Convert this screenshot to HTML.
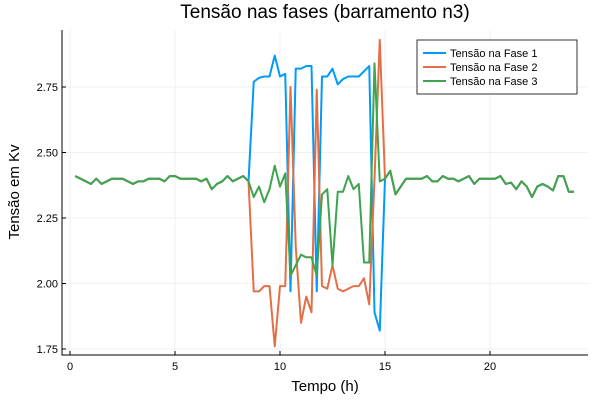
<!DOCTYPE html>
<html><head><meta charset="utf-8"><style>
body{margin:0;background:#fff}
svg text{font-family:"Liberation Sans",sans-serif}
</style></head><body>
<svg id="c" width="600" height="400" xmlns="http://www.w3.org/2000/svg">
<rect width="600" height="400" fill="#fff"/>
<g id="grid"></g><g id="axes"></g><g id="series"></g>
<text x="325" y="18" text-anchor="middle" font-size="19" fill="#000">Tensão nas fases (barramento n3)</text>
<text x="325" y="391" text-anchor="middle" font-size="15" fill="#000">Tempo (h)</text>
<text x="19" y="192" text-anchor="middle" font-size="15" fill="#000" transform="rotate(-90 19 192)">Tensão em Kv</text>
<g id="legend">
<rect x="417" y="40" width="160" height="54" fill="#fff" stroke="#000" stroke-width="0.8"/>
</g>
</svg>
<script>
const xTicks=[0,5,10,15,20];
const yTicks=[1.75,2.00,2.25,2.50,2.75];
const yTickLabels=["1.75","2.00","2.25","2.50","2.75"];
const seriesNames=["Tensão na Fase 1","Tensão na Fase 2","Tensão na Fase 3"];
const common1=[2.41,2.40,2.39,2.38,2.40,2.38,2.39,2.40,2.40,2.40,2.39,2.38,2.39,2.39,2.40,2.40,2.40,2.39,2.41,2.41,2.40,2.40,2.40,2.40,2.39,2.40,2.36,2.38,2.39,2.41,2.39,2.40,2.41,2.39];
const common2=[2.40,2.43,2.34,2.37,2.40,2.40,2.40,2.40,2.41,2.39,2.39,2.41,2.40,2.40,2.39,2.40,2.41,2.38,2.40,2.40,2.40,2.40,2.41,2.38,2.385,2.36,2.39,2.37,2.33,2.37,2.38,2.37,2.355,2.41,2.41,2.35,2.35];
const blueMid=[2.77,2.785,2.79,2.79,2.87,2.79,2.80,1.97,2.82,2.82,2.83,2.83,1.97,2.79,2.79,2.82,2.76,2.78,2.79,2.79,2.79,2.81,2.83,1.89,1.82];
const redMid=[1.97,1.97,1.99,1.99,1.76,1.99,1.99,2.75,2.14,1.85,1.95,1.89,2.74,1.99,1.98,2.07,1.98,1.97,1.98,1.99,1.99,2.02,1.92,2.40,2.93];
const greenMid=[2.33,2.37,2.31,2.36,2.45,2.37,2.42,2.03,2.07,2.11,2.10,2.10,2.03,2.34,2.36,2.07,2.35,2.35,2.41,2.36,2.38,2.08,2.08,2.84,2.39];
const tStart=0.25, tStep=0.25;
const colors=["#009AFA","#E36F47","#3EA44E"];
const series=[common1.concat(blueMid,common2),common1.concat(redMid,common2),common1.concat(greenMid,common2)];
const NS="http://www.w3.org/2000/svg";
const L=62,R=588,T=30,B=355;
function xs(t){return 70+t*21;}
function ys(v){return 349-(v-1.75)*262;}
function mk(tag,attrs,parent){const e=document.createElementNS(NS,tag);for(const k in attrs)e.setAttribute(k,attrs[k]);parent.appendChild(e);return e;}
const grid=document.getElementById('grid'),axes=document.getElementById('axes'),sg=document.getElementById('series'),lg=document.getElementById('legend');
xTicks.forEach(t=>{
 const g=mk('line',{x1:xs(t),x2:xs(t),y1:T,y2:B,stroke:'#000','stroke-opacity':0.1,'stroke-width':0.5},grid);
 
 
 const tk=mk('line',{x1:xs(t),x2:xs(t),y1:B,y2:B-4,stroke:'#000','stroke-width':1},axes);
 
 
 const tx=mk('text',{x:xs(t),y:B+15,'text-anchor':'middle','font-size':11,fill:'#000'},axes);
 tx.textContent=t;
 
 
});
yTicks.forEach((v,i)=>{
 const g=mk('line',{x1:L,x2:R,y1:ys(v),y2:ys(v),stroke:'#000','stroke-opacity':0.1,'stroke-width':0.5},grid);
 
 
 const tk=mk('line',{x1:L,x2:L+4,y1:ys(v),y2:ys(v),stroke:'#000','stroke-width':1},axes);
 
 
 const tx=mk('text',{x:L-4,y:ys(v)+4,'text-anchor':'end','font-size':11,fill:'#000'},axes);
 tx.textContent=yTickLabels[i];
 
 
});
const ax=mk('path',{d:`M${L},${T} L${L},${B} L${R},${B}`,fill:'none',stroke:'#000','stroke-width':1},axes);


series.forEach((arr,si)=>{
 const d=arr.map((v,i)=>(i?'L':'M')+xs(tStart+i*tStep).toFixed(2)+','+ys(v).toFixed(2)).join(' ');
 const p=mk('path',{d:d,fill:'none',stroke:colors[si],'stroke-width':2,'stroke-linejoin':'round'},sg);
 
 
 const y=53+si*14;
 const ll=mk('line',{x1:423,x2:446,y1:y,y2:y,stroke:colors[si],'stroke-width':2},lg);
 
 
 const lt=mk('text',{x:450,y:y+4,'font-size':11,fill:'#000'},lg);
 lt.textContent=seriesNames[si];
 
 
});
</script>
</body></html>
